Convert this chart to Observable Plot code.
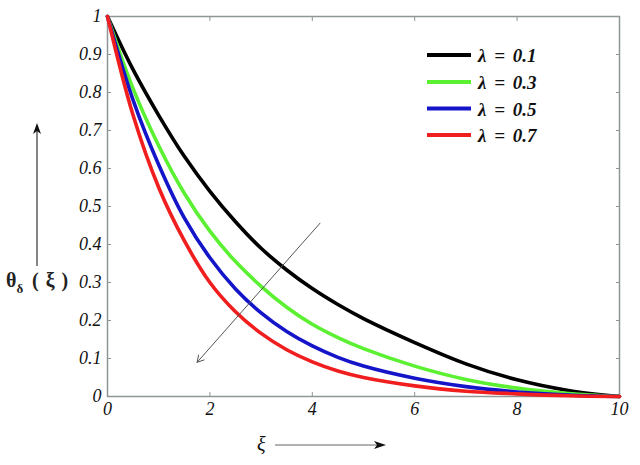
<!DOCTYPE html>
<html><head><meta charset="utf-8">
<script src="https://cdn.jsdelivr.net/npm/d3@7"></script>
<script src="https://cdn.jsdelivr.net/npm/@observablehq/plot@0.6"></script>
<style>
body{margin:0;background:#fff}
#chart{position:relative;width:640px;height:465px}
</style>
</head><body><div id="chart"></div>
<script>
// ---- data ----
const xi       = [0, 0.5, 1, 1.5, 2, 2.5, 3, 3.5, 4, 4.5, 5, 6, 7, 8, 9, 10];
const theta_01 = [1, 0.86, 0.74, 0.632, 0.54, 0.46, 0.39, 0.333, 0.284, 0.242, 0.205, 0.142, 0.086, 0.044, 0.016, 0];
const theta_03 = [1, 0.81, 0.66, 0.535, 0.435, 0.355, 0.29, 0.235, 0.19, 0.155, 0.126, 0.08, 0.045, 0.022, 0.008, 0];
const theta_05 = [1, 0.78, 0.61, 0.47, 0.365, 0.283, 0.22, 0.171, 0.133, 0.103, 0.08, 0.048, 0.026, 0.012, 0.004, 0];
const theta_07 = [1, 0.74, 0.55, 0.41, 0.30, 0.223, 0.166, 0.123, 0.091, 0.067, 0.05, 0.028, 0.014, 0.007, 0.002, 0];
const lambdas  = ["0.1", "0.3", "0.5", "0.7"];
const colors   = ["#000000", "#5cf032", "#1414c8", "#f01e1e"];
const xTicks   = [0, 2, 4, 6, 8, 10];
const yTicks   = [0, 0.1, 0.2, 0.3, 0.4, 0.5, 0.6, 0.7, 0.8, 0.9, 1];
const yTickLabels = ["0", "0.1", "0.2", "0.3", "0.4", "0.5", "0.6", "0.7", "0.8", "0.9", "1"];
const trendArrow = [{x1: 4.15, y1: 0.456, x2: 1.75, y2: 0.09}];

const series = [theta_01, theta_03, theta_05, theta_07];
const rows = series.flatMap((s, i) => s.map((v, j) => ({x: xi[j], y: v, lam: lambdas[i]})));

const serif = "'Liberation Serif', 'Times New Roman', 'DejaVu Serif', serif";
const axisGray = "#8e9696";
const tickFont = {fontSize: 18, fontStyle: "italic", fontFamily: serif, fill: "#111"};

const plot = Plot.plot({
  width: 640, height: 465,
  marginLeft: 107, marginRight: 21, marginTop: 16, marginBottom: 69,
  x: {domain: [0, 10], label: null},
  y: {domain: [0, 1], label: null},
  color: {domain: lambdas, range: colors},
  style: {fontFamily: serif, background: "white", overflow: "visible"},
  marks: [
    Plot.frame({stroke: axisGray, strokeWidth: 1.5}),
    Plot.axisX({anchor: "bottom", ticks: xTicks, tickSize: -4, tickFormat: () => "", stroke: axisGray, label: null}),
    Plot.axisX({anchor: "top", ticks: xTicks, tickSize: -4, tickFormat: () => "", stroke: axisGray, label: null}),
    Plot.axisY({anchor: "left", ticks: yTicks, tickSize: -4, tickFormat: () => "", stroke: axisGray, label: null}),
    Plot.axisY({anchor: "right", ticks: yTicks, tickSize: -4, tickFormat: () => "", stroke: axisGray, label: null}),
    Plot.axisX({anchor: "bottom", ticks: xTicks, tickSize: 0, tickPadding: 6, tickFormat: d => String(d), label: null, ...tickFont}),
    Plot.axisY({anchor: "left", ticks: yTicks, tickSize: 0, tickPadding: 6, tickFormat: (d, i) => yTickLabels[i], label: null, ...tickFont}),
    Plot.line(rows, {x: "x", y: "y", z: "lam", stroke: "lam", strokeWidth: 3.6, curve: "catmull-rom"}),
    Plot.arrow(trendArrow, {x1: "x1", y1: "y1", x2: "x2", y2: "y2", stroke: "#555", strokeWidth: 1, headLength: 11})
  ]
});

document.getElementById("chart").appendChild(plot);

// ---- legend and axis annotations ----
const svg = d3.select(plot);
const leg = svg.append("g").attr("text-anchor", "start");
const legY = [55, 82, 108.5, 135];
lambdas.forEach((l, i) => {
  leg.append("line").attr("x1", 427).attr("x2", 471).attr("y1", legY[i]).attr("y2", legY[i])
    .attr("stroke", colors[i]).attr("stroke-width", 4);
  leg.append("text").attr("x", 478).attr("y", legY[i] + 7)
    .attr("text-anchor", "start")
    .attr("font-family", serif).attr("font-size", 19)
    .attr("font-weight", "bold").attr("font-style", "italic").attr("fill", "#111")
    .attr("word-spacing", 3)
    .text("\u03bb = " + l);
});

// y-axis label
const yl = svg.append("text").attr("x", 6).attr("y", 287).attr("text-anchor", "start")
  .attr("font-family", serif).attr("font-size", 20).attr("font-weight", "bold").attr("fill", "#222");
yl.append("tspan").text("\u03b8");
yl.append("tspan").attr("font-size", 13).attr("dy", 6).text("\u03b4");
yl.append("tspan").attr("x", 32).attr("dy", -6).attr("word-spacing", 2).text("( \u03be )");

// vertical arrow
svg.append("line").attr("x1", 37).attr("x2", 37).attr("y1", 266).attr("y2", 130)
  .attr("stroke", "#333").attr("stroke-width", 1.2);
svg.append("path").attr("d", "M37,123 L33,134 L37,131 L41,134 Z").attr("fill", "#111");

// x-axis label
svg.append("text").attr("x", 257).attr("y", 451).attr("text-anchor", "start")
  .attr("font-family", serif).attr("font-size", 20).attr("font-style", "italic")
  .attr("fill", "#111").text("\u03be");
svg.append("line").attr("x1", 275).attr("x2", 380).attr("y1", 445).attr("y2", 445)
  .attr("stroke", "#999").attr("stroke-width", 1.3);
svg.append("path").attr("d", "M386,445 L374,441 L377,445 L374,449 Z").attr("fill", "#111");
</script>
</body></html>
